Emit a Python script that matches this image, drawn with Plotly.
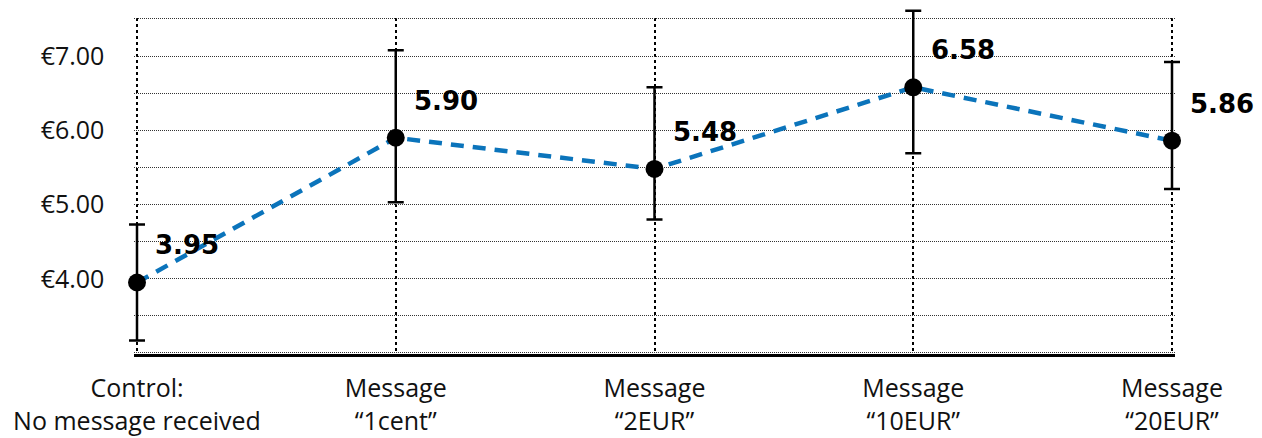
import plotly.graph_objects as go

categories = ["Control:<br>No message received", "Message<br>\u201c1cent\u201d",
              "Message<br>\u201c2EUR\u201d", "Message<br>\u201c10EUR\u201d",
              "Message<br>\u201c20EUR\u201d"]
means = [3.95, 5.90, 5.48, 6.58, 5.86]
upper = [4.73, 7.08, 6.58, 7.61, 6.92]
lower = [3.17, 5.03, 4.80, 5.69, 5.21]
ytick_vals = [3.0, 3.5, 4.0, 4.5, 5.0, 5.5, 6.0, 6.5, 7.0, 7.5]
ytick_text = ["", "", "\u20ac4.00", "", "\u20ac5.00", "", "\u20ac6.00", "", "\u20ac7.00", ""]

xs = list(range(len(categories)))
err_plus = [u - m for u, m in zip(upper, means)]
err_minus = [m - l for m, l in zip(means, lower)]

FONT = "Open Sans"
LABEL_FONT = "DejaVu Sans"

# ---- geometry (figure pixels) ----
W, H = 1262, 438
ML, MR, MT, MB = 100, 70, 0, 80
PX0, PX1 = 129.0, 1164.0      # where first/last category sit
PY_TOP, PY_BOT = 11.0, 345.0   # where y max / y min gridlines sit
x_lo, x_hi = xs[0], xs[-1]
y_lo, y_hi = ytick_vals[0], ytick_vals[-1]
sx = (PX1 - PX0) / (x_hi - x_lo)
sy = (PY_BOT - PY_TOP) / (y_hi - y_lo)
pw, ph = W - ML - MR, H - MT - MB

def fx(v):  # value -> figure x
    return PX0 + (v - x_lo) * sx

def fy(v):
    return PY_BOT - (v - y_lo) * sy

# data subplot covers the whole paper area (so marks are not clipped)
x2_range = [x_lo + (ML - PX0) / sx, x_lo + (ML + pw - PX0) / sx]
y2_range = [y_lo - (MT + ph - PY_BOT) / sy, y_lo + (PY_BOT - MT) / sy]

# grid subplot: nudged just inside the edges so edge gridlines are kept
gx = [x_lo - 0.01, x_hi + 0.01]
gy = [y_lo - 0.02, y_hi + 0.02]
gx_dom = [(fx(gx[0]) - ML) / pw, (fx(gx[1]) - ML) / pw]
gy_dom = [(MT + ph - fy(gy[0])) / ph, (MT + ph - fy(gy[1])) / ph]

fig = go.Figure()
fig.add_trace(go.Scatter(x=xs, y=means, mode="none", xaxis="x", yaxis="y",
                         showlegend=False, hoverinfo="skip"))
fig.add_trace(go.Scatter(
    x=xs, y=means, mode="lines+markers", xaxis="x2", yaxis="y2",
    line=dict(color="#0b74bb", width=4.5, dash="13px,9px"),
    marker=dict(color="black", size=18),
    error_y=dict(type="data", symmetric=False, array=err_plus, arrayminus=err_minus,
                 color="black", thickness=2.5, width=8),
    cliponaxis=False,
    showlegend=False, hoverinfo="skip",
))

for x, m in zip(xs, means):
    fig.add_annotation(x=x, y=m, xref="x2", yref="y2", text=f"<b>{m:.2f}</b>",
                       showarrow=False, xanchor="left", yanchor="middle",
                       xshift=16, yshift=37,
                       font=dict(family=LABEL_FONT, size=26, color="black"))

fig.update_layout(
    width=W, height=H,
    margin=dict(l=ML, r=MR, t=MT, b=MB, autoexpand=False),
    paper_bgcolor="white", plot_bgcolor="rgba(0,0,0,0)",
    font=dict(family=FONT, color="black"),
    xaxis=dict(
        domain=gx_dom, range=gx, tickvals=xs, ticktext=categories,
        tickfont=dict(family=FONT, size=25, color="#111"),
        showgrid=True, gridcolor="black", gridwidth=2, griddash="dot",
        showline=True, linecolor="black", linewidth=3, zeroline=False,
        ticks="", ticklabelstandoff=10, anchor="y", automargin=False,
    ),
    yaxis=dict(
        domain=gy_dom, range=gy, tickvals=ytick_vals, ticktext=ytick_text,
        tickfont=dict(family=FONT, size=25, color="#111"),
        showgrid=True, gridcolor="#333", gridwidth=1, griddash="1px,1px",
        showline=False, zeroline=False, ticks="", ticklabelstandoff=29,
        anchor="x", automargin=False,
    ),
    xaxis2=dict(domain=[0, 1], range=x2_range, visible=False, anchor="y2",
                automargin=False),
    yaxis2=dict(domain=[0, 1], range=y2_range, visible=False, anchor="x2",
                automargin=False),
)

fig.write_html("out.html")
